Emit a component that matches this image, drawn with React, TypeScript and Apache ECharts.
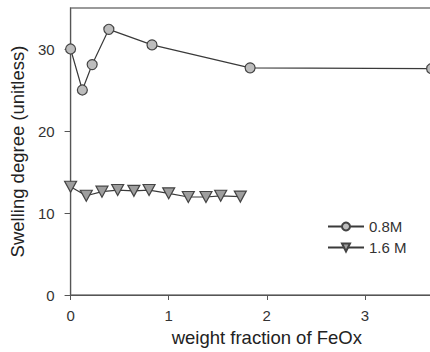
import React, { useEffect, useRef } from "react";
import * as echarts from "echarts";

const xLow = [0, 0.12, 0.22, 0.39, 0.83, 1.83, 3.68];
const yLow = [30.0, 25.0, 28.1, 32.4, 30.5, 27.7, 27.6];

const xHigh = [0, 0.16, 0.32, 0.48, 0.645, 0.8, 1.0, 1.2, 1.38, 1.53, 1.73];
const yHigh = [13.2, 12.1, 12.6, 12.8, 12.7, 12.8, 12.4, 11.95, 11.95, 12.1, 12.0];

const seriesNames = ["0.8M", "1.6 M"];

const FONT = "Arial, 'Liberation Sans', sans-serif";

export default function App() {
  const ref = useRef<HTMLDivElement>(null);
  useEffect(() => {
    if (!ref.current) return;
    const chart = echarts.init(ref.current, undefined, { renderer: "svg" });
    const lineColor = "#3a3a3a";
    chart.setOption({
      animation: false,
      backgroundColor: "#ffffff",
      textStyle: { fontFamily: FONT },
      grid: {
        left: 58,
        top: 8,
        width: 405,
        height: 288,
        show: true,
        borderColor: "#7a7a7a",
        borderWidth: 1.5,
        containLabel: false,
      },
      legend: {
        left: 322,
        top: 214,
        orient: "vertical",
        itemWidth: 36,
        itemHeight: 10,
        itemGap: 6,
        textStyle: { fontSize: 15, color: "#333", fontFamily: FONT },
        data: seriesNames,
      },
      xAxis: {
        type: "value",
        min: 0,
        max: 4,
        interval: 1,
        name: "weight fraction of FeOx",
        nameLocation: "middle",
        nameGap: 33,
        nameTextStyle: { fontSize: 18.5, color: "#222", fontFamily: FONT },
        axisLine: { show: true, onZero: false, lineStyle: { color: "#555", width: 1 } },
        axisTick: { show: true, inside: false, length: 5, lineStyle: { color: "#555" } },
        axisLabel: { fontSize: 15, color: "#333", margin: 13, fontFamily: FONT, showMaxLabel: false },
        splitLine: { show: false },
      },
      yAxis: {
        type: "value",
        min: 0,
        max: 35,
        interval: 10,
        name: "Swelling degree (unitless)",
        nameLocation: "middle",
        nameGap: 31,
        nameRotate: 90,
        nameTextStyle: { fontSize: 18.5, color: "#222", fontFamily: FONT },
        axisLine: { show: true, onZero: false, lineStyle: { color: "#555", width: 1 } },
        axisTick: { show: true, inside: false, length: 6, lineStyle: { color: "#555" } },
        axisLabel: { fontSize: 15, color: "#333", margin: 16, fontFamily: FONT, showMaxLabel: false },
        splitLine: { show: false },
      },
      series: [
        {
          name: seriesNames[0],
          type: "line",
          data: xLow.map((x, i) => [x, yLow[i]]),
          symbol: "circle",
          symbolSize: 10,
          clip: true,
          lineStyle: { color: lineColor, width: 1.2 },
          itemStyle: { color: "#bdbdbd", borderColor: "#444", borderWidth: 1.2 },
        },
        {
          name: seriesNames[1],
          type: "line",
          data: xHigh.map((x, i) => [x, yHigh[i]]),
          symbol: "triangle",
          symbolRotate: 180,
          symbolSize: [12, 11],
          lineStyle: { color: lineColor, width: 1.2 },
          itemStyle: { color: "#9e9e9e", borderColor: "#444", borderWidth: 1.2 },
        },
      ],
    });
    return () => chart.dispose();
  }, []);
  return (
    <div style={{ position: "fixed", left: 0, top: 0, width: 430, height: 352, overflow: "hidden", background: "#fff" }}>
      <div ref={ref} style={{ width: 500, height: 352 }} />
    </div>
  );
}
